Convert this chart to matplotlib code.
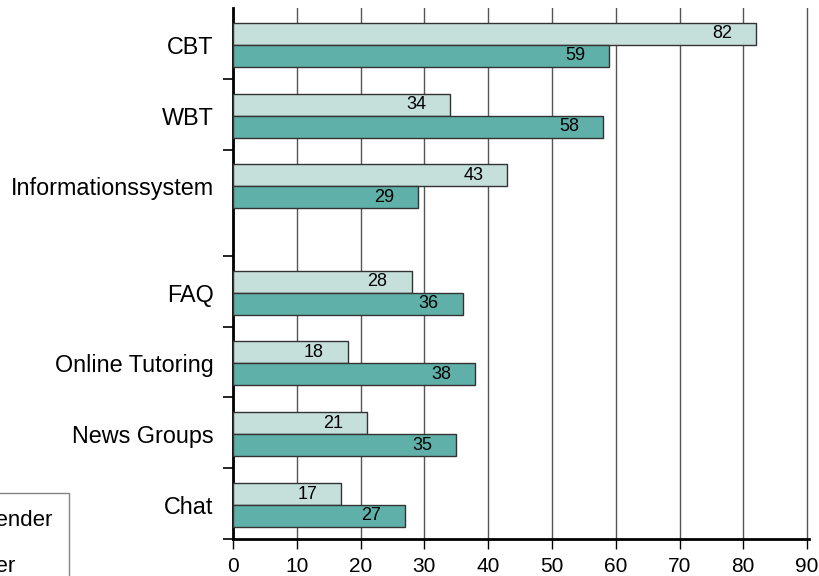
import matplotlib
matplotlib.use('Agg')
import matplotlib.pyplot as plt
from matplotlib.patches import Patch

categories = ['CBT', 'WBT', 'Informationssystem', 'FAQ', 'Online Tutoring', 'News Groups', 'Chat']
group_start = [0, 1, 2, 3.5, 4.5, 5.5, 6.5]
lernender = [82, 34, 43, 28, 18, 21, 17]
lehrer = [59, 58, 29, 36, 38, 35, 27]
series_names = ['Lernender', 'Lehrer']
x_ticks = [0, 10, 20, 30, 40, 50, 60, 70, 80, 90]

LIGHT = '#c5dfdb'
DARK = '#5fb0a8'
EDGE = '#333333'

plt.rcParams['font.family'] = ['Liberation Sans', 'DejaVu Sans']

x_max = 90.3
fig = plt.figure(figsize=(8.19, 5.76), dpi=100)
ax = fig.add_axes([233 / 819, 1 - 539 / 576, (809 - 233) / 819, (539 - 8) / 576])

bar_h = 0.31
mid = 0.52
light_y = [s + mid - bar_h / 2 for s in group_start]
dark_y = [s + mid + bar_h / 2 for s in group_start]

ax.barh(light_y, lernender, height=bar_h, color=LIGHT, edgecolor=EDGE, linewidth=1, zorder=3)
ax.barh(dark_y, lehrer, height=bar_h, color=DARK, edgecolor=EDGE, linewidth=1, zorder=3)

for y, v in zip(light_y, lernender):
    ax.annotate(str(v), (v, y), xytext=(-24, 0), textcoords='offset pixels',
                ha='right', va='center', fontsize=13, zorder=4)
for y, v in zip(dark_y, lehrer):
    ax.annotate(str(v), (v, y), xytext=(-24, 0), textcoords='offset pixels',
                ha='right', va='center', fontsize=13, zorder=4)

ax.set_xlim(0, x_max)
ax.set_ylim(7.5, 0)
ax.set_xticks(x_ticks)
ax.tick_params(axis='x', direction='out', length=7, width=1, labelsize=15, pad=6)
ax.xaxis.grid(True, color='#555555', linewidth=1, zorder=0)

# group boundaries get tick marks, names sit on minor ticks without marks
ax.set_yticks([1, 2, 3.5, 4.5, 5.5, 6.5, 7.5])
ax.set_yticklabels([])
ax.tick_params(axis='y', which='major', direction='out', length=7, width=1.2)
ax.set_yticks([s + mid for s in group_start], minor=True)
ax.set_yticklabels(categories, minor=True)
ax.tick_params(axis='y', which='minor', length=0, labelsize=16.8, pad=14)

for side in ['top', 'right']:
    ax.spines[side].set_visible(False)
ax.spines['left'].set_linewidth(2)
ax.spines['bottom'].set_linewidth(2)

handles = [Patch(facecolor=LIGHT, edgecolor=EDGE), Patch(facecolor=DARK, edgecolor=EDGE)]
leg = fig.legend(handles, series_names, loc='upper right',
                 bbox_to_anchor=(69 / 819, 1 - 493 / 576),
                 fontsize=16, frameon=True, fancybox=False, borderpad=0.75,
                 labelspacing=1.15, handlelength=1.5, borderaxespad=0)
leg.get_frame().set_edgecolor('#666666')
leg.get_frame().set_linewidth(1)

fig.savefig('out.png', dpi=100)
